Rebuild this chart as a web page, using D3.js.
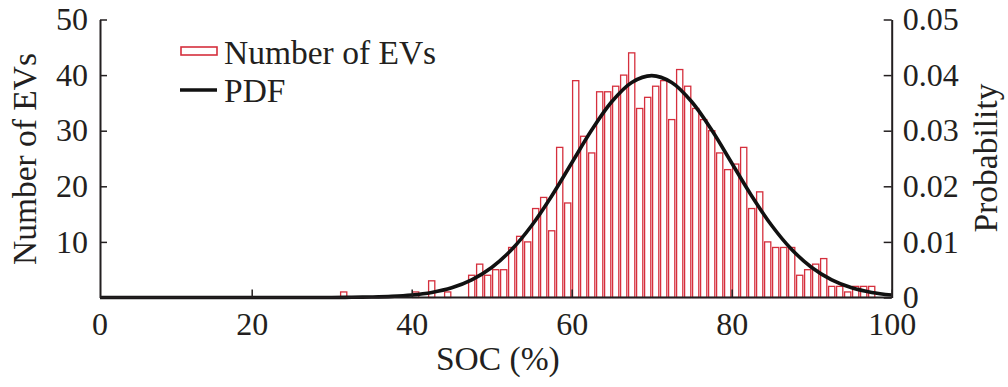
<!DOCTYPE html>
<html>
<head>
  <meta charset="utf-8">
  <script src="https://d3js.org/d3.v7.min.js" type="text/javascript"></script>
  <style>
    body { margin: 0; background: #fff; }
    svg text { font-family: "Liberation Serif", "Times New Roman", serif; fill: #231f20; }
  </style>
</head>
<body>

<svg id="chart" width="1008" height="387"></svg>

<script type="text/javascript">
  // histogram bins: each bar covers [soc, soc + 1)
  var socBins = [31, 40, 42, 44, 47, 48, 49, 50, 51, 52, 53, 54, 55, 56, 57, 58, 59,
                 60, 61, 62, 63, 64, 65, 66, 67, 68, 69, 70, 71, 72, 73, 74, 75, 76,
                 77, 78, 79, 80, 81, 82, 83, 84, 85, 86, 87, 88, 89, 90, 91, 92, 93,
                 94, 95, 96, 97];
  var evCounts = [1, 1, 3, 1, 4, 6, 4, 5, 5, 9, 11, 10, 16, 18, 12, 27, 17,
                  39, 29, 26, 37, 37, 38, 40, 44, 34, 36, 38, 39, 32, 41, 38, 34, 32,
                  30, 26, 23, 24, 27, 16, 19, 10, 9, 9, 9, 4, 5, 6, 7, 2, 2,
                  1, 2, 2, 2];

  // PDF curve
  var pdfSoc = [1, 10, 20, 25, 30, 32.5, 35, 37.5, 40, 42.5, 45, 47.5, 50, 52.5, 55,
                57.5, 60, 62.5, 65, 67.5, 70, 72.5, 75, 77.5, 80, 82.5, 85, 87.5,
                90, 92.5, 95, 97.5, 100];
  var pdfValues = [0, 0, 0, 0, 0.00001, 0.00004, 0.00009, 0.0002, 0.00044, 0.00091,
                   0.00175, 0.00318, 0.0054, 0.00863, 0.01295, 0.01827, 0.0242, 0.03012,
                   0.0352, 0.03867, 0.0399, 0.03867, 0.0352, 0.03012, 0.0242, 0.01827,
                   0.01295, 0.00863, 0.0054, 0.00318, 0.00175, 0.00091, 0.00044];

  var xTicks = [20, 40, 60, 80, 100];
  var countTicks = [10, 20, 30, 40, 50];
  var probTicks = [0, 0.01, 0.02, 0.03, 0.04, 0.05];

  var svg = d3.select("#chart");
  var plotLeft = 100, plotRight = 891.7, plotTop = 19.5, plotBottom = 297.5;
  var red = "#d52f3d", ink = "#231f20";
  var tickFont = 32, titleFont = 33.5;

  var x = d3.scaleLinear().domain([0, 100]).range([91.7, 891.7]);
  var y = d3.scaleLinear().domain([0, 50]).range([plotBottom, plotTop]);
  var yProb = d3.scaleLinear().domain([0, 0.05]).range([plotBottom, plotTop]);

  var bins = socBins.map(function(s, i) { return {soc: s, n: evCounts[i]}; });

  //bars
  svg.append("g")
    .selectAll("rect")
    .data(bins)
    .enter().append("rect")
      .attr("x", function(d) { return x(d.soc) + 0.9; })
      .attr("y", function(d) { return y(d.n); })
      .attr("width", function(d) { return x(d.soc + 1) - x(d.soc) - 1.8; })
      .attr("height", function(d) { return y(0) - y(d.n); })
      .attr("fill", "#fff")
      .attr("stroke", red)
      .attr("stroke-width", 1.3);

  //pdf line
  var pdfPoints = pdfSoc.map(function(s, i) { return [s, pdfValues[i]]; });
  var line = d3.line()
    .x(function(d) { return Math.max(x(d[0]), plotLeft); })
    .y(function(d) { return yProb(d[1]); })
    .curve(d3.curveCatmullRom);

  svg.append("path")
    .datum(pdfPoints)
    .attr("d", line)
    .attr("fill", "none")
    .attr("stroke", "#111")
    .attr("stroke-width", 3.6);

  // axes
  var xAxis = svg.append("g")
    .attr("transform", "translate(0," + plotBottom + ")")
    .call(d3.axisBottom(x).tickValues(xTicks).tickSizeInner(-8).tickSizeOuter(0).tickPadding(15));
  xAxis.select(".domain").remove();
  xAxis.append("text")
    .attr("x", plotLeft).attr("y", 15).attr("dy", "0.71em")
    .attr("text-anchor", "middle")
    .text("0");

  svg.append("g")
    .attr("transform", "translate(" + plotLeft + ",0)")
    .call(d3.axisLeft(y).tickValues(countTicks).tickSizeInner(-7).tickSizeOuter(0).tickPadding(12));

  svg.append("g")
    .attr("transform", "translate(" + plotRight + ",0)")
    .call(d3.axisRight(yProb).tickValues(probTicks).tickSizeInner(-8).tickSizeOuter(0).tickPadding(11)
      .tickFormat(function(d) { return d === 0 ? "0" : d3.format(".2f")(d); }));

  svg.append("line")
    .attr("x1", plotLeft).attr("x2", plotRight)
    .attr("y1", plotBottom).attr("y2", plotBottom)
    .attr("stroke", ink).attr("stroke-width", 2.2);

  svg.selectAll(".tick line").attr("stroke", ink).attr("stroke-width", 1.5);
  svg.selectAll(".domain").attr("stroke", ink).attr("stroke-width", 2);
  svg.selectAll("text").attr("font-size", tickFont).attr("font-family", null).style("fill", ink);

  // titles
  svg.append("text")
    .attr("x", (plotLeft + plotRight) / 2 + 2).attr("y", 370)
    .attr("text-anchor", "middle").attr("font-size", titleFont)
    .text("SOC (%)");

  svg.append("text")
    .attr("transform", "translate(36,159) rotate(-90)")
    .attr("text-anchor", "middle").attr("font-size", titleFont)
    .text("Number of EVs");

  svg.append("text")
    .attr("transform", "translate(997,158) rotate(-90)")
    .attr("text-anchor", "middle").attr("font-size", titleFont)
    .text("Probability");

  // legend
  var legend = svg.append("g");
  legend.append("rect")
    .attr("x", 181).attr("y", 47).attr("width", 36).attr("height", 8)
    .attr("fill", "#fff").attr("stroke", red).attr("stroke-width", 1.6);
  legend.append("text")
    .attr("x", 224).attr("y", 64).attr("font-size", titleFont)
    .text("Number of EVs");
  legend.append("line")
    .attr("x1", 180).attr("x2", 217).attr("y1", 90).attr("y2", 90)
    .attr("stroke", "#111").attr("stroke-width", 3.6);
  legend.append("text")
    .attr("x", 224).attr("y", 102).attr("font-size", titleFont)
    .text("PDF");
</script>

</body>
</html>
